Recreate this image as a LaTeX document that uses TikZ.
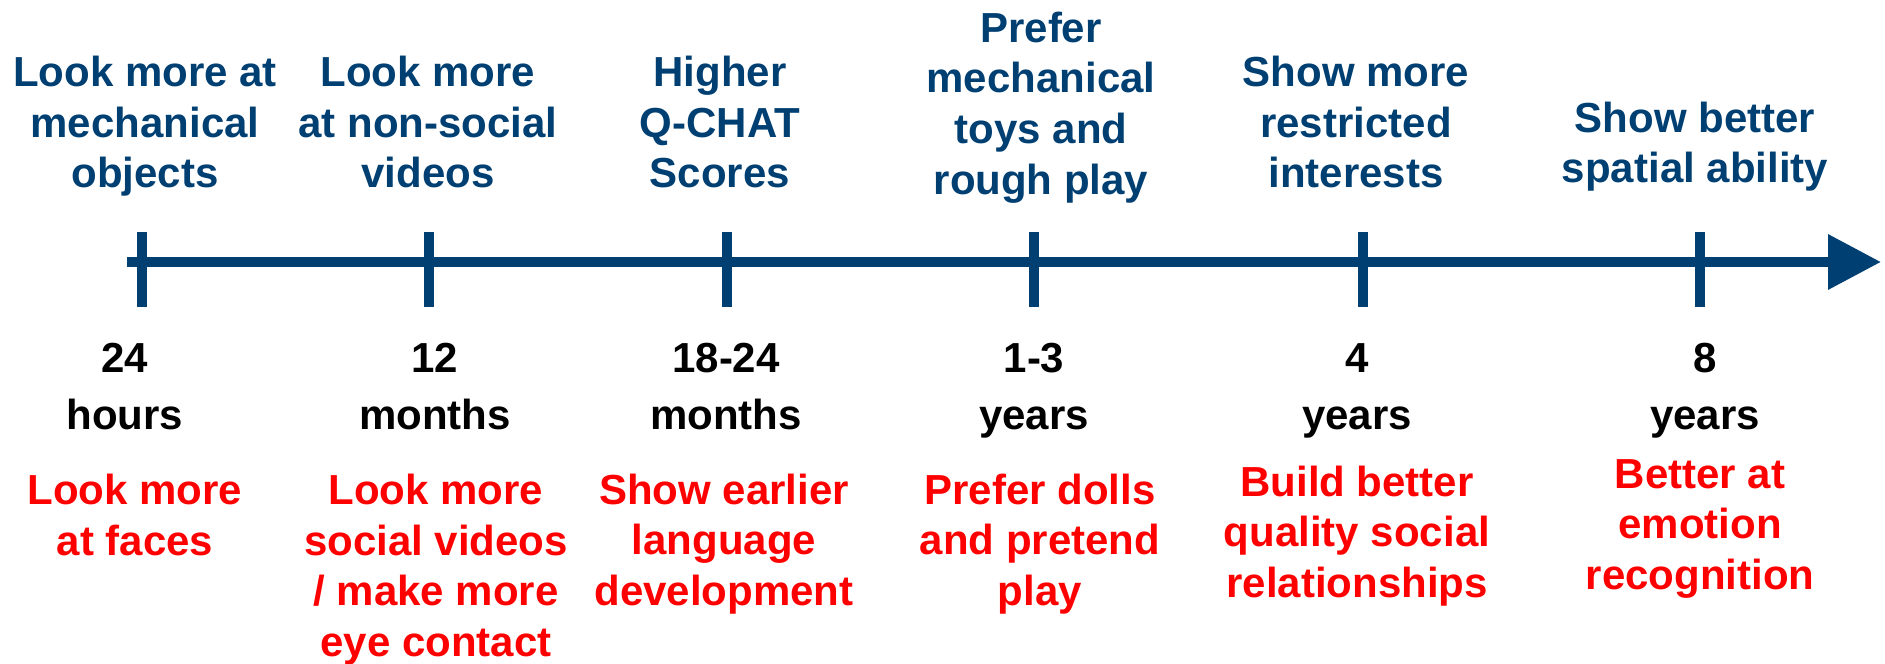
\documentclass[tikz,border=0pt]{standalone}
\usepackage{fontspec}
\setmainfont{Liberation Sans}
\usetikzlibrary{arrows.meta,calc}
\definecolor{axisblue}{RGB}{0,63,114}
\definecolor{notered}{RGB}{255,0,0}
% labels are placed by the baseline of their last line
\tikzset{
  lbl/.style={font=\bfseries\fontsize{42bp}{50.5bp}\selectfont, align=center, anchor=base, inner sep=0pt},
  upper lbl/.style={lbl, text=axisblue},
  age lbl/.style={lbl, text=black, font=\bfseries\fontsize{42bp}{57bp}\selectfont},
  lower lbl/.style={lbl, text=notered},
  axisline/.style={draw=axisblue, line width=10bp},
  tickmark/.style={draw=axisblue, line width=10bp},
}
\begin{document}
\begin{tikzpicture}[x=1bp,y=-1bp]
\useasboundingbox (0,0) rectangle (1885,664);

% time axis
\coordinate (axstart) at (127,262);
\coordinate (axend) at (1881,262);
\draw[axisline, -{Triangle[length=53bp,width=53bp]}] (axstart) -- (axend);

% tick marks
\foreach \n/\x in {1/142,2/429,3/727,4/1034,5/1363,6/1700}
  \coordinate (tick\n) at (\x,262);
\foreach \n in {1,...,6}
  \draw[tickmark] ($(tick\n)+(0,-30)$) -- ($(tick\n)+(0,45)$);

% findings above the axis
\node[upper lbl] (up1) at (145,188) {Look more at\\mechanical\\objects};
\node[upper lbl] (up2) at (428,188) {Look more\\at non-social\\videos};
\node[upper lbl] (up3) at (720,188) {Higher\\Q-CHAT\\Scores};
\node[upper lbl] (up4) at (1041,194) {Prefer\\mechanical\\toys and\\rough play};
\node[upper lbl] (up5) at (1356,188) {Show more\\restricted\\interests};
\node[upper lbl] (up6) at (1695,183) {Show better\\spatial ability};

% ages
\node[age lbl] (age1) at (125,429) {24\\hours};
\node[age lbl] (age2) at (435,429) {12\\months};
\node[age lbl] (age3) at (726,429) {18-24\\months};
\node[age lbl] (age4) at (1034,429) {1-3\\years};
\node[age lbl] (age5) at (1357,429) {4\\years};
\node[age lbl] (age6) at (1705,429) {8\\years};

% findings below the axis
\node[lower lbl] (low1) at (135,555) {Look more\\at faces};
\node[lower lbl] (low2) at (436,656) {Look more\\social videos\\/ make more\\eye contact};
\node[lower lbl] (low3) at (724,605) {Show earlier\\language\\development};
\node[lower lbl] (low4) at (1040,605) {Prefer dolls\\and pretend\\play};
\node[lower lbl] (low5) at (1357,597) {Build better\\quality social\\relationships};
\node[lower lbl] (low6) at (1700,589) {Better at\\emotion\\recognition};
\end{tikzpicture}
\end{document}
